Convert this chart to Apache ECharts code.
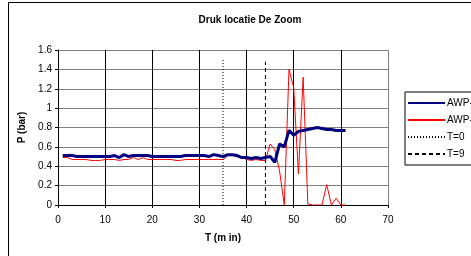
<!DOCTYPE html>
<html>
<head>
<meta charset="utf-8">
<script src="https://cdn.jsdelivr.net/npm/echarts@6/dist/echarts.min.js"></script>
<style>
html,body{margin:0;padding:0;background:#fff;}
#chartZoom{width:471px;height:256px;}
</style>
</head>
<body>
<div id="chartZoom"></div>
<script>
// minuten
var minutes = [1,2,3,4,5,6,7,8,9,10,11,12,13,14,15,16,17,18,19,20,21,22,23,24,25,26,27,28,29,30,
	31,32,33,34,35,36,37,38,39,40,41,42,43,44,45,46,47,48,49,50,51,52,53,54,55,56,57,58,59,60,61];
// AWP-1
var awp1 = [0.51,0.51,0.51,0.50,0.50,0.50,0.50,0.50,0.50,0.50,0.50,0.51,0.49,0.52,0.50,0.51,0.51,0.51,0.51,0.50,
	0.50,0.50,0.50,0.50,0.50,0.50,0.51,0.51,0.51,0.51,0.51,0.50,0.52,0.51,0.50,0.52,0.52,0.51,0.49,0.49,
	0.48,0.49,0.48,0.49,0.50,0.44,0.63,0.60,0.77,0.72,0.76,0.77,0.78,0.79,0.80,0.79,0.78,0.78,0.77,0.77,0.77];
// AWP-2
var awp2 = [0.49,0.49,0.47,0.47,0.47,0.47,0.46,0.46,0.46,0.47,0.47,0.47,0.46,0.47,0.47,0.49,0.47,0.49,0.47,0.47,
	0.47,0.47,0.47,0.47,0.46,0.46,0.47,0.47,0.47,0.47,0.47,0.47,0.47,0.47,0.47,0.51,0.51,0.50,0.49,0.47,
	0.46,0.47,0.46,0.46,0.63,0.57,0.35,0.00,1.40,1.21,0.32,1.32,0.01,0.00,0.00,0.00,0.21,0.00,0.07,0.00,0.00];
// T=0 en T=9 markeringen
var t0Line = [[35,0],[35,1.5]];
var t9Line = [[44,0],[44,1.48]];
var xTicks = [0,70,10];
var yTicks = [0,1.6,0.2];

var seriesNames = ['AWP-1','AWP-2','T=0','T=9'];

function pairs(xs, ys){
	var out = [];
	for (var i = 0; i < xs.length; i++) out.push([xs[i], ys[i]]);
	return out;
}

var chartZoom = echarts.init(document.getElementById('chartZoom'));
var font = 'Liberation Sans, Arial, sans-serif';
var chartZoom_option = {
	animation: false,
	textStyle: { fontFamily: font },
	title: {
		text: 'Druk locatie De Zoom',
		left: 245,
		textAlign: 'center',
		top: 10,
		textStyle: { fontSize: 10, fontWeight: 'bold', color: '#000', fontFamily: font }
	},
	graphic: [{
		type: 'rect',
		shape: { x: 8.5, y: 2.5, width: 520, height: 300 },
		style: { fill: 'none', stroke: '#000', lineWidth: 1 },
		z: -10
	}],
	legend: {
		orient: 'vertical',
		left: 405,
		top: 92,
		padding: [6, 40, 6, 2],
		itemGap: 7,
		itemWidth: 37,
		itemHeight: 10,
		backgroundColor: '#fff',
		borderColor: '#000',
		borderWidth: 1,
		borderRadius: 0,
		itemStyle: { opacity: 0 },
		textStyle: { fontSize: 10, color: '#000', fontFamily: font, padding: [0, 0, 0, -3] },
		data: seriesNames
	},
	grid: { left: 58, right: 83, top: 50, bottom: 51 },
	xAxis: {
		type: 'value',
		min: xTicks[0], max: xTicks[1], interval: xTicks[2],
		name: 'T (m in)',
		nameLocation: 'middle',
		nameGap: 28,
		nameTextStyle: { fontSize: 10, fontWeight: 'bold', color: '#000' },
		axisLine: { lineStyle: { color: '#000', width: 1 } },
		axisTick: { show: true, length: 3, lineStyle: { color: '#000' } },
		axisLabel: { fontSize: 10, color: '#000', margin: 10 },
		splitLine: { show: true, lineStyle: { color: ['#000','#000','#000','#000','#000','#000','#000','#808080'], width: 1 } }
	},
	yAxis: {
		type: 'value',
		min: yTicks[0], max: yTicks[1], interval: yTicks[2],
		name: 'P (bar)',
		nameLocation: 'middle',
		nameGap: 22,
		nameRotate: 90,
		nameTextStyle: { fontSize: 10, fontWeight: 'bold', color: '#000' },
		axisLine: { show: true, lineStyle: { color: '#000', width: 1 } },
		axisTick: { show: true, length: 3, lineStyle: { color: '#000' } },
		axisLabel: { fontSize: 10, color: '#000', margin: 6 },
		splitLine: { show: true, lineStyle: { color: '#808080', width: 1 } }
	},
	series: [
		{
			name: 'AWP-1', type: 'line', symbol: 'none', z: 3,
			lineStyle: { color: '#000080', width: 3 },
			itemStyle: { color: '#000080' },
			data: pairs(minutes, awp1)
		},
		{
			name: 'AWP-2', type: 'line', symbol: 'none', z: 2,
			lineStyle: { color: '#ff0000', width: 1 },
			itemStyle: { color: '#ff0000' },
			data: pairs(minutes, awp2)
		},
		{
			name: 'T=0', type: 'line', symbol: 'none',
			lineStyle: { color: '#000', width: 1, type: [1, 2] },
			itemStyle: { color: '#000' },
			data: t0Line
		},
		{
			name: 'T=9', type: 'line', symbol: 'none',
			lineStyle: { color: '#000', width: 1, type: [4, 3] },
			itemStyle: { color: '#000' },
			data: t9Line
		}
	]
};
chartZoom.setOption(chartZoom_option);
</script>
</body>
</html>
